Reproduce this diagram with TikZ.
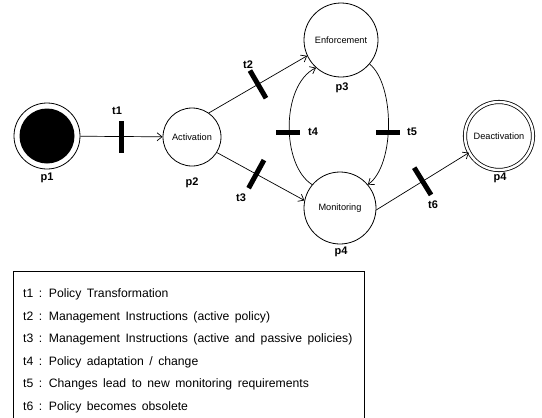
\documentclass[tikz,border=0pt]{standalone}
\usepackage{fontspec}
\setmainfont{Liberation Sans}
\usetikzlibrary{arrows.meta}
\begin{document}
\begin{tikzpicture}[x=1pt,y=-1pt,
  place/.style={circle,draw,line width=0.8pt,inner sep=0pt,font=\fontsize{9.2}{10}\selectfont},
  bar/.style={fill=black,inner sep=0pt,minimum width=5pt,minimum height=32pt},
  hbar/.style={fill=black,inner sep=0pt,minimum width=24pt,minimum height=5pt},
  lbl/.style={font=\fontsize{11}{12}\selectfont\bfseries},
  arc/.style={line width=0.7pt,-{Straight Barb[length=5pt,width=8pt]}},
  keybox/.style={draw,line width=0.8pt,anchor=north west,minimum width=351pt,minimum height=160pt,inner sep=0pt},
  keyline/.style={anchor=base west,inner sep=0pt,font=\fontsize{12.2}{14}\selectfont}]
\useasboundingbox (0,0) rectangle (542,418);
\fill[white] (0,0) rectangle (542,418);

% places
\node[place,minimum size=66pt] (p1) at (47,136) {};
\fill[black] (47,136) circle (27.5pt);
\node[place,minimum size=58pt] (p2) at (192,137) {Activation};
\node[place,minimum size=74pt] (p3) at (341,40) {Enforcement};
\node[place,minimum size=72pt] (p4) at (340,208) {Monitoring};
\node[place,minimum size=68pt,double,double distance=2.5pt] (p5) at (499,136) {Deactivation};

% place labels
\node[lbl] (l1) at (47,178) {p1};
\node[lbl] (l2) at (192,183) {p2};
\node[lbl] (l3) at (342,88) {p3};
\node[lbl] (l4) at (341,252) {p4};
\node[lbl] (l5) at (500,178) {p4};

% arcs with transitions
\draw[arc] (p1) -- (p2) node[pos=0.5,bar] (t1) {};
\draw[arc] (p2.55) -- (p3.205) node[pos=0.5,sloped,bar] (t2) {};
\draw[arc] (p2.-32) -- (p4.168) node[pos=0.45,sloped,bar] (t3) {};
\draw[arc] (p4.140) .. controls (281,165) and (281,85) .. (p3.228);
\draw[arc] (p3.-40) .. controls (395,85) and (395,165) .. (p4.40);
\draw[arc] (p4.-3) -- (p5.209) node[pos=0.5,sloped,bar] (t6) {};
\node[hbar] (t4) at (288,132) {};
\node[hbar] (t5) at (388,132) {};

% transition labels
\node[lbl] (lt1) at (117,111) {t1};
\node[lbl] (lt2) at (248,65) {t2};
\node[lbl] (lt3) at (241,198) {t3};
\node[lbl] (lt4) at (313,132) {t4};
\node[lbl] (lt5) at (412,132) {t5};
\node[lbl] (lt6) at (433,205) {t6};

% legend
\node[keybox] (key) at (13,271) {};
\begin{scope}[every node/.append style={execute at begin node={\spaceskip=5.5pt plus 1pt\relax}}]
\node[keyline] (k1) at (23,297.5) {t1 : Policy Transformation};
\node[keyline] (k2) at (23,320) {t2 : Management Instructions (active policy)};
\node[keyline] (k3) at (23,342.5) {t3 : Management Instructions (active and passive policies)};
\node[keyline] (k4) at (23,365) {t4 : Policy adaptation / change};
\node[keyline] (k5) at (23,387.5) {t5 : Changes lead to new monitoring requirements};
\node[keyline] (k6) at (23,410) {t6 : Policy becomes obsolete};
\end{scope}
\end{tikzpicture}
\end{document}
